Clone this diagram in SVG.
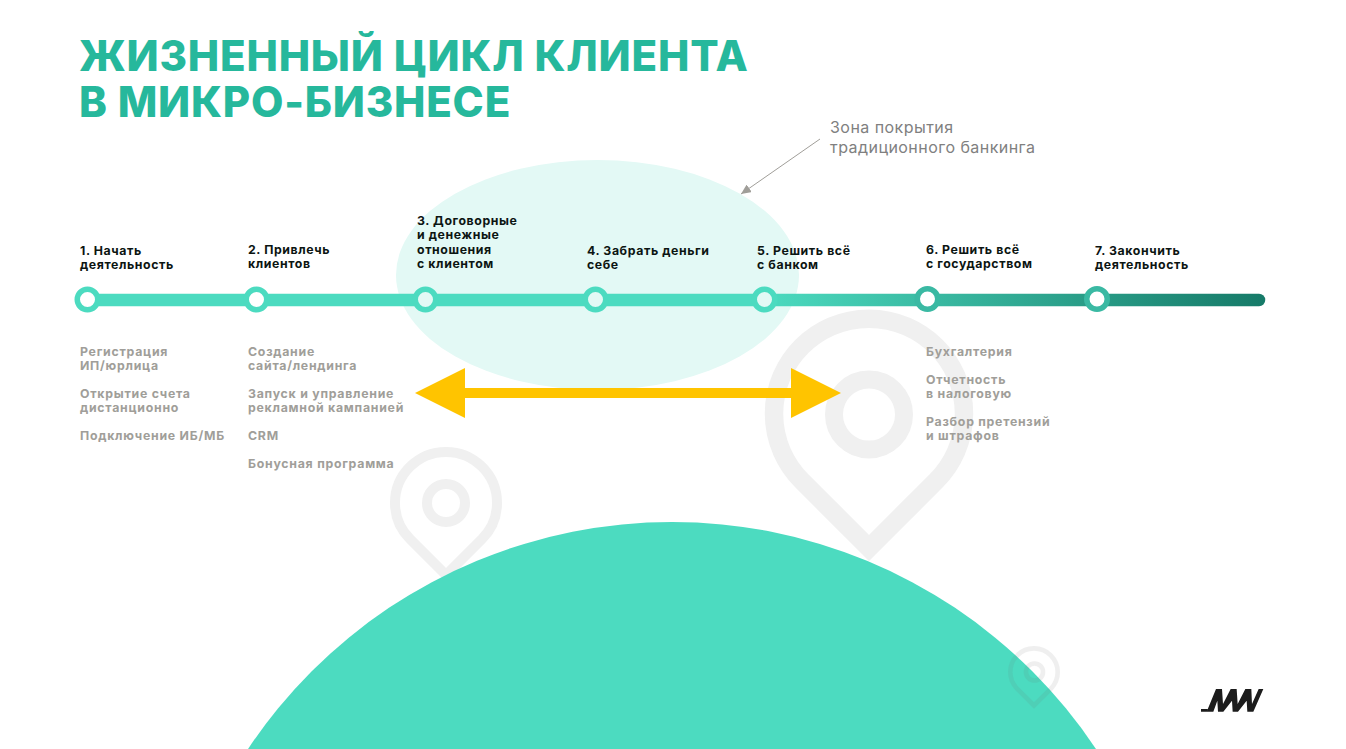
<svg xmlns="http://www.w3.org/2000/svg" width="1346" height="749" viewBox="0 0 1346 749">
<style>
.title{font:800 42px "Inter","Open Sans",sans-serif;fill:#26b89c;letter-spacing:.78px}
.h{font:700 12.3px "Inter","Open Sans",sans-serif;fill:#0c1512;letter-spacing:.6px}
.s{font:700 12.3px "Inter","Open Sans",sans-serif;fill:#a09e99;letter-spacing:.75px}
.note{font:400 16px "Inter","Open Sans",sans-serif;fill:#808080;letter-spacing:.45px}
.ring{fill:#fff;stroke:#4cdbc0;stroke-width:5.5}
.ringt{fill:#e3f9f5;stroke:#4cdbc0;stroke-width:5.5}
.ringd{fill:#fff;stroke:#3ab9a3;stroke-width:5.5}
.pin{fill:none;stroke:#f0f0f0}
</style>
<defs>
<linearGradient id="g" gradientUnits="userSpaceOnUse" x1="760" y1="0" x2="1265" y2="0">
<stop offset="0" stop-color="#4cdbc0"/><stop offset="1" stop-color="#167a68"/>
</linearGradient>
<marker id="a" markerUnits="userSpaceOnUse" markerWidth="11" markerHeight="9" refX="10" refY="4.500" orient="auto"><path d="M0 0L10 4.500L0 9Z" fill="#a09e99"/></marker>
</defs>
<rect width="1346" height="749" fill="#fff"/>
<g id="pins">
<path class="pin" stroke-width="10" d="M446 575L410 539A51 51 0 1 1 482 539Z"/>
<circle class="pin" stroke-width="10" cx="446" cy="503" r="19"/>
<path class="pin" stroke-width="18.500" d="M869 548L802 481A95 95 0 1 1 936 481Z"/>
<circle class="pin" stroke-width="18" cx="869" cy="414.500" r="35"/>
</g>
<ellipse id="coverage" cx="597.500" cy="275" rx="201.500" ry="115" fill="#e3f9f5"/>
<circle id="planet" cx="672" cy="1031.500" r="509.500" fill="#4cdbc0"/>
<g id="pin-small" opacity=".1" fill="none" stroke="#6a6a6a" stroke-width="4.600">
<path d="M1034 705.500L1017.200 688.800A23.700 23.700 0 1 1 1050.800 688.800Z"/>
<circle cx="1034.500" cy="672" r="8.500"/>
</g>
<text class="title" x="79" y="71">ЖИЗНЕННЫЙ ЦИКЛ КЛИЕНТА</text>
<text class="title" x="79" y="117">В МИКРО-БИЗНЕСЕ</text>
<g id="connectors">
<path d="M87 300H765" stroke="#4cdbc0" stroke-width="12.500" fill="none"/>
<path d="M760 300H1259" stroke="url(#g)" stroke-width="12.500" stroke-linecap="round" fill="none"/>
<path d="M820 139L741 194" stroke="#a09e99" stroke-width="1" fill="none" marker-end="url(#a)"/>
<path d="M415 393L465 368V388H791V368L841 393L791 418V398H465V418Z" fill="#ffc400"/>
</g>
<g id="node1"><circle class="ring" cx="87.500" cy="299.500" r="10.250"/><text class="h" x="80" y="255">1. Начать</text><text class="h" x="80" y="269">деятельность</text>
<text class="s" x="80" y="356">Регистрация</text><text class="s" x="80" y="370">ИП/юрлица</text><text class="s" x="80" y="398">Открытие счета</text><text class="s" x="80" y="412">дистанционно</text><text class="s" x="80" y="440">Подключение ИБ/МБ</text></g>
<g id="node2"><circle class="ring" cx="256.500" cy="299.500" r="10.250"/><text class="h" x="248" y="254">2. Привлечь</text><text class="h" x="248" y="268">клиентов</text>
<text class="s" x="248" y="356">Создание</text><text class="s" x="248" y="370">сайта/лендинга</text><text class="s" x="248" y="398">Запуск и управление</text><text class="s" x="248" y="412">рекламной кампанией</text><text class="s" x="248" y="440">CRM</text><text class="s" x="248" y="468">Бонусная программа</text></g>
<g id="node3"><circle class="ringt" cx="425.500" cy="299.500" r="10.250"/><text class="h" x="417" y="225">3. Договорные</text><text class="h" x="417" y="239">и денежные</text><text class="h" x="417" y="254">отношения</text><text class="h" x="417" y="268">с клиентом</text></g>
<g id="node4"><circle class="ringt" cx="595.500" cy="299.500" r="10.250"/><text class="h" x="587" y="255">4. Забрать деньги</text><text class="h" x="587" y="269">себе</text></g>
<g id="node5"><circle class="ringt" cx="764.500" cy="299.500" r="10.250"/><text class="h" x="757" y="255">5. Решить всё</text><text class="h" x="757" y="269">с банком</text></g>
<g id="node6"><circle class="ringd" cx="927.500" cy="299" r="10.250"/><text class="h" x="926" y="254">6. Решить всё</text><text class="h" x="926" y="268">с государством</text>
<text class="s" x="926" y="356">Бухгалтерия</text><text class="s" x="926" y="384">Отчетность</text><text class="s" x="926" y="398">в налоговую</text><text class="s" x="926" y="426">Разбор претензий</text><text class="s" x="926" y="440">и штрафов</text></g>
<g id="node7"><circle class="ringd" cx="1097" cy="299" r="10.250"/><text class="h" x="1095" y="255">7. Закончить</text><text class="h" x="1095" y="269">деятельность</text></g>
<text class="note" x="830" y="133">Зона покрытия</text><text class="note" x="830" y="153">традиционного банкинга</text>
<path id="logo" fill="#1c1c1c" transform="translate(1190 680) scale(.3333)" d="M33 95V87H53L50 95ZM50 95L78 27H96L99 72L122 27H140L143 72L166 27H184L186 72L206 27H220L190 95H172L170 62L144 95H128L126 62L100 95H84L82 62L70 95Z"/>
</svg>
